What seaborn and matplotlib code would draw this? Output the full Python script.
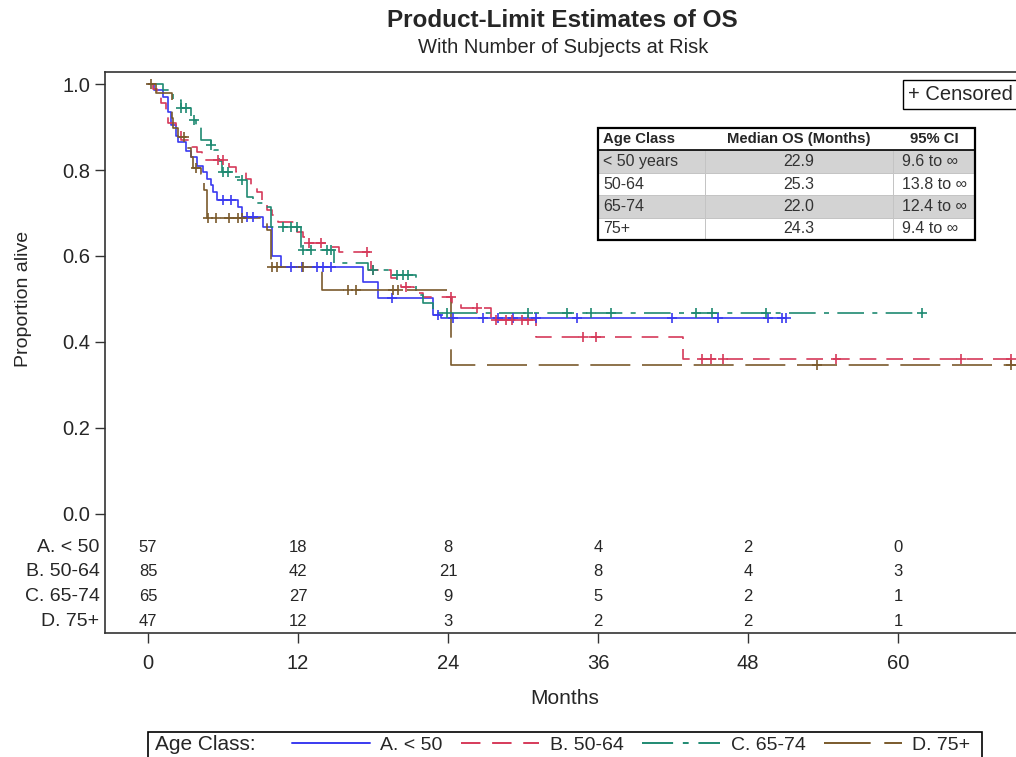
import numpy as np
import pandas as pd
import matplotlib
matplotlib.use('Agg')
import matplotlib.pyplot as plt
import seaborn as sns
from matplotlib.lines import Line2D
from matplotlib.patches import Rectangle
import matplotlib.transforms as mtransforms

# ---- data ----
groups = ['A. < 50', 'B. 50-64', 'C. 65-74', 'D. 75+']

a_times = [0, 0.5, 1.2, 1.6, 1.8, 2.2, 2.4, 3.0, 3.4, 3.9, 4.4, 4.7, 5.0, 5.2, 5.5,
           7.2, 7.5, 9.2, 9.9, 10.6, 17.2, 18.4, 22.8, 23.4]
a_surv = [1.0, 0.985, 0.97, 0.935, 0.905, 0.88, 0.865, 0.845, 0.83, 0.81, 0.795, 0.78,
          0.765, 0.75, 0.73, 0.714, 0.69, 0.667, 0.60, 0.575, 0.54, 0.502, 0.463, 0.455]
a_end = 51.0
a_cens = [6.0, 6.6, 7.9, 8.4, 11.4, 12.3, 13.5, 14.0, 14.6, 19.5, 23.2, 24.4, 26.8,
          28.0, 29.2, 31.0, 34.3, 41.9, 45.6, 49.6, 50.7, 51.0]

b_times = [0, 0.4, 0.7, 1.0, 1.4, 1.6, 2.2, 2.6, 3.5, 3.9, 4.3, 6.5, 7.0, 7.8, 8.2,
           8.7, 9.1, 9.5, 9.9, 10.4, 11.9, 12.4, 12.6, 14.3, 15.3, 17.8, 19.4, 20.2,
           21.3, 22.0, 24.3, 25.0, 27.4, 31.0, 42.8]
b_surv = [1.0, 0.988, 0.976, 0.956, 0.935, 0.91, 0.893, 0.87, 0.853, 0.842, 0.823,
          0.807, 0.795, 0.78, 0.76, 0.749, 0.726, 0.707, 0.695, 0.68, 0.656, 0.644,
          0.63, 0.62, 0.61, 0.567, 0.549, 0.528, 0.514, 0.505, 0.49, 0.479, 0.451,
          0.412, 0.36]
b_end = 70.0
b_cens = [5.6, 6.0, 12.9, 13.8, 17.5, 18.0, 20.6, 24.2, 26.3, 27.8, 28.6, 29.1,
          29.9, 30.4, 34.8, 35.8, 44.3, 45.0, 46.0, 55.0, 65.0, 69.0]

c_times = [0, 1.2, 2.0, 2.6, 3.4, 3.8, 4.2, 5.0, 5.3, 5.7, 5.9, 6.8, 7.4, 7.9, 8.4,
           9.2, 9.8, 12.2, 14.9, 17.6, 19.5, 21.4, 22.0, 22.8]
c_surv = [1.0, 0.986, 0.963, 0.944, 0.916, 0.905, 0.87, 0.858, 0.847, 0.82, 0.795,
          0.784, 0.777, 0.737, 0.723, 0.714, 0.667, 0.614, 0.584, 0.567, 0.556,
          0.51, 0.49, 0.467]
c_end = 62.0
c_cens = [2.6, 3.0, 3.7, 5.0, 6.0, 6.4, 7.5, 10.8, 11.4, 11.9, 12.4, 13.0, 14.3,
          14.6, 18.0, 19.9, 20.4, 20.8, 23.9, 30.4, 33.5, 35.4, 37.0, 43.8, 45.1,
          49.4, 61.9]

d_times = [0, 0.6, 1.9, 2.0, 2.4, 3.0, 3.4, 3.6, 4.2, 4.5, 4.7, 9.5, 9.8, 13.9, 24.2]
d_surv = [1.0, 0.98, 0.92, 0.898, 0.877, 0.851, 0.83, 0.805, 0.79, 0.753, 0.688,
          0.66, 0.575, 0.521, 0.347]
d_end = 70.0
d_cens = [0.2, 2.9, 3.8, 4.8, 5.4, 6.5, 7.2, 7.5, 9.9, 10.3, 12.4, 16.0, 16.6,
          19.6, 20.0, 53.5, 69.0]

risk_times = [0, 12, 24, 36, 48, 60]
risk_a = [57, 18, 8, 4, 2, 0]
risk_b = [85, 42, 21, 8, 4, 3]
risk_c = [65, 27, 9, 5, 2, 1]
risk_d = [47, 12, 3, 2, 2, 1]

table_cols = ['Age Class', 'Median OS (Months)', '95% CI']
table_class = ['< 50 years', '50-64', '65-74', '75+']
table_median = ['22.9', '25.3', '22.0', '24.3']
table_ci = ['9.6 to \u221e', '13.8 to \u221e', '12.4 to \u221e', '9.4 to \u221e']

# ---- style ----
palette = {'A. < 50': '#3a3af0', 'B. 50-64': '#d63a5a',
           'C. 65-74': '#1f8a72', 'D. 75+': '#7a5a2c'}
dashes = {'A. < 50': '', 'B. 50-64': (10, 6),
          'C. 65-74': (16, 5, 3, 5), 'D. 75+': (24, 7)}

sns.set_theme(style='ticks')
plt.rcParams['font.family'] = ['Liberation Sans', 'DejaVu Sans']

curves = [(a_times, a_surv, a_end, a_cens), (b_times, b_surv, b_end, b_cens),
          (c_times, c_surv, c_end, c_cens), (d_times, d_surv, d_end, d_cens)]

step_rows = []
cens_rows = []
for g, (t, s, end, cens) in zip(groups, curves):
    for ti, si in zip(list(t) + [end], list(s) + [s[-1]]):
        step_rows.append((g, ti, si))
    idx = np.searchsorted(t, cens, side='right') - 1
    for ci, k in zip(cens, idx):
        cens_rows.append((g, ci, s[k]))
steps = pd.DataFrame(step_rows, columns=['group', 'month', 'surv'])
censored = pd.DataFrame(cens_rows, columns=['group', 'month', 'surv'])

fig = plt.figure(figsize=(10.16, 7.57), dpi=100)
ax = fig.add_axes([105 / 1016, 1 - 633 / 757, 911 / 1016, 561 / 757])

sns.lineplot(data=steps, x='month', y='surv', hue='group', style='group',
             palette=palette, dashes=dashes, drawstyle='steps-post',
             estimator=None, linewidth=1.2, legend=False, ax=ax)
for g in groups:
    sub = censored[censored['group'] == g]
    sns.scatterplot(data=sub, x='month', y='surv', color=palette[g], marker='+',
                    s=60, linewidth=1.2, legend=False, ax=ax, zorder=3)

ax.set_xlim(-3.44, 69.44)
ax.set_ylim(-0.277, 1.028)
ax.set_yticks([0.0, 0.2, 0.4, 0.6, 0.8, 1.0])
ax.set_yticklabels(['0.0', '0.2', '0.4', '0.6', '0.8', '1.0'])
ax.set_xticks(risk_times)
ax.tick_params(axis='both', length=7, width=1, labelsize=14.5, color='#333333')
ax.tick_params(axis='x', pad=8)
for sp in ['left', 'top', 'bottom']:
    ax.spines[sp].set_linewidth(1.2)
    ax.spines[sp].set_color('#333333')
ax.spines['right'].set_visible(False)

ax.set_ylabel('Proportion alive', fontsize=14)
ax.yaxis.set_label_coords(-0.080, 0.595)
ax.set_xlabel('Months', fontsize=15)
ax.xaxis.set_label_coords(0.505, -0.1)

# number at risk inside the axes
risk_rows = [risk_a, risk_b, risk_c, risk_d]
trans = mtransforms.blended_transform_factory(ax.transAxes, ax.transData)
for i, (g, row) in enumerate(zip(groups, risk_rows)):
    yy = -0.077 - 0.0575 * i
    ax.text(-0.006, yy, g, transform=trans, ha='right', va='center', fontsize=14)
    for tt, n in zip(risk_times, row):
        ax.text(tt, yy, str(n), ha='center', va='center', fontsize=12)

# censored legend box
ax.text(0.997, 0.976, '+ Censored', transform=ax.transAxes, ha='right', va='top',
        fontsize=14.5, bbox=dict(boxstyle='square,pad=0.25', fc='white', ec='black', lw=1))

# median table
cell_text = [[c, m, ci] for c, m, ci in zip(table_class, table_median, table_ci)]
colours = [['#d3d3d3'] * 3 if i % 2 == 0 else ['white'] * 3 for i in range(4)]
tab = ax.table(cellText=cell_text, colLabels=table_cols, cellColours=colours,
               colWidths=[0.284, 0.499, 0.217],
               bbox=[0.541, 0.7005, 0.414, 0.1995], zorder=5)
tab.auto_set_font_size(False)
for (r, c), cell in tab.get_celld().items():
    txt = cell.get_text()
    if r == 0:
        cell.set_facecolor('white')
        cell.set_edgecolor('white')
        txt.set_fontsize(10.7)
        txt.set_fontweight('bold')
        cell.set_text_props(ha='left' if c == 0 else 'center')
    else:
        cell.set_edgecolor('#c4c4c4')
        cell.set_linewidth(0.7)
        txt.set_fontsize(11.5)
        txt.set_color('#333333')
        cell.set_text_props(ha='center' if c == 1 else 'left')
    cell.PAD = 0.11 if c == 2 and r > 0 else 0.05
ax.add_patch(Rectangle((0.541, 0.7005), 0.414, 0.1995, transform=ax.transAxes,
                       fill=False, ec='black', lw=1.6, zorder=6))
ax.plot([0.541, 0.955], [0.7005 + 0.1995 * 0.8] * 2, transform=ax.transAxes,
        color='black', lw=1.2, zorder=6)

# titles
fig.text(0.554, 0.973, 'Product-Limit Estimates of OS', ha='center', va='center',
         fontsize=17.5, fontweight='bold')
fig.text(0.554, 0.937, 'With Number of Subjects at Risk', ha='center', va='center',
         fontsize=14.5)

# bottom legend
fig.patches.append(Rectangle((148 / 1016, -0.02), 834 / 1016, (757 - 732) / 757 + 0.02,
                             transform=fig.transFigure, fill=False, ec='black', lw=1.2))
fig.text(155 / 1016, 0.016, 'Age Class:', ha='left', va='center', fontsize=15)
handles = []
for g in groups:
    h = Line2D([], [], color=palette[g], lw=1.4)
    if dashes[g]:
        h.set_dashes(dashes[g])
    handles.append(h)
fig.legend(handles, groups, ncol=4, loc='center left', bbox_to_anchor=(292 / 1016, 0.016),
           frameon=False, fontsize=14, handlelength=4.0, handletextpad=0.55,
           columnspacing=0.95, borderpad=0, borderaxespad=0)

fig.savefig('out.png', dpi=100)
